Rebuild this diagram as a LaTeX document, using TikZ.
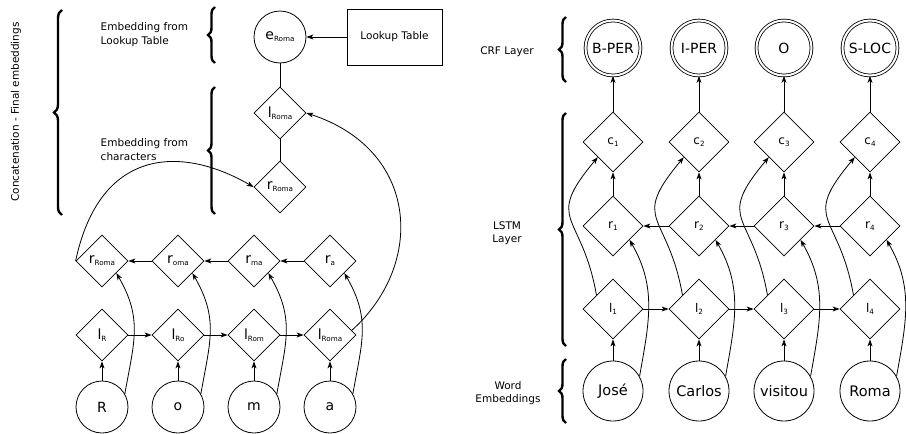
\documentclass[tikz,border=0pt]{standalone}
\usepackage{fontspec}
\setmainfont{DejaVu Sans}
\usetikzlibrary{arrows.meta,shapes.geometric,decorations.pathreplacing}

% letter with a lowered, smaller index
\newcommand{\dlab}[2]{#1\raisebox{-1.8pt}{\fontsize{7.2}{8}\selectfont #2}}

\begin{document}
\begin{tikzpicture}[x=1pt,y=1pt,
  line width=0.8pt,
  arr/.style={-{Stealth[length=7pt,width=5pt,inset=2pt]}},
  ldia/.style={draw, diamond, aspect=1, minimum width=52pt, minimum height=52pt, inner sep=0pt, font=\fontsize{14}{14}\selectfont},
  rdia/.style={draw, diamond, aspect=1, minimum width=60pt, minimum height=60pt, inner sep=0pt, font=\fontsize{12}{12}\selectfont},
  lcirc/.style={draw, circle, minimum size=52pt, inner sep=0pt, font=\fontsize{14}{14}\selectfont},
  wcirc/.style={draw, circle, minimum size=60pt, inner sep=0pt, font=\fontsize{14.5}{14.5}\selectfont},
  crf/.style={draw, circle, double, double distance=2pt, minimum size=55pt, inner sep=0pt, font=\fontsize{14}{14}\selectfont},
  lbl/.style={font=\fontsize{10.5}{14}\selectfont, align=left},
  clbl/.style={font=\fontsize{10.5}{13.5}\selectfont, align=center},
  brc/.style={decorate, decoration={brace, amplitude=7pt}, line width=2.4pt},
]
\useasboundingbox (0,0) rectangle (906,-434);

% ---------- character model ----------
\node[lcirc] (eR) at (280,-37) {\dlab{e}{Roma}};
\node[draw, minimum width=95pt, minimum height=56pt, inner sep=0pt,
      font=\fontsize{10.5}{12}\selectfont] (lut) at (394.5,-37) {Lookup Table};
\node[ldia] (lT) at (280,-113) {\dlab{l}{Roma}};
\node[ldia] (rT) at (280,-187) {\dlab{r}{Roma}};

\draw[arr] (lut) -- (eR);
\draw (eR) -- (lT);
\draw (lT) -- (rT);

\foreach \n/\x/\c/\l/\r in {1/102/R/R/Roma, 2/178/o/Ro/oma, 3/254/m/Rom/ma, 4/330/a/Roma/a} {
  \node[lcirc] (ch\n) at (\x,-407) {\c};
  \node[ldia] (lc\n) at (\x,-335) {\dlab{l}{\l}};
  \node[ldia] (rc\n) at (\x,-261) {\dlab{r}{\r}};
}
\foreach \n in {1,...,4} {
  \draw[arr] (ch\n) -- (lc\n);
  \draw[arr] (ch\n.30) to[out=80,in=-60,distance=53pt] (rc\n.-40);
}
\foreach \a/\b in {1/2,2/3,3/4} {
  \draw[arr] (lc\a) -- (lc\b);
  \draw[arr] (rc\b) -- (rc\a);
}
\draw[arr] (lc4.12) to[out=42,in=-18,out distance=100pt,in distance=118pt] (lT.east);
\draw[arr] (rc1.west) to[out=78,in=150,out distance=115pt,in distance=85pt] (rT.west);

\draw[brc, decoration={amplitude=8pt}] (62,-215) -- (62,-10);
\draw[brc] (215,-63) -- (215,-7);
\draw[brc] (215,-214) -- (215,-87);

\node[lbl, rotate=90] (concat) at (16,-112) {Concatenation - Final embeddings};
\node[lbl, anchor=west] (tlut) at (97,-35) {Embedding from\\Lookup Table};
\node[lbl, anchor=west] (tchar) at (97,-150) {Embedding from\\characters};

% ---------- word model ----------
\foreach \n/\x/\w/\t in {1/613/José/B-PER, 2/699/Carlos/I-PER, 3/784/visitou/O, 4/870/Roma/S-LOC} {
  \node[wcirc] (w\n) at (\x,-391) {\w};
  \node[rdia] (lw\n) at (\x,-309) {\dlab{l}{\n}};
  \node[rdia] (rw\n) at (\x,-226) {\dlab{r}{\n}};
  \node[rdia] (cw\n) at (\x,-142) {\dlab{c}{\n}};
  \node[crf] (t\n) at (\x,-48) {\t};
  \draw[arr] (w\n) -- (lw\n);
  \draw[arr] (rw\n) -- (cw\n);
  \draw[arr] (cw\n) -- (t\n);
  \draw[arr] (w\n.29) to[out=80,in=-60,distance=55pt] (rw\n.-40);
  \draw[arr] (lw\n.140) to[out=100,in=-130,distance=85pt] (cw\n.-135);
}
\foreach \a/\b in {1/2,2/3,3/4} {
  \draw[arr] (lw\a) -- (lw\b);
  \draw[arr] (rw\b) -- (rw\a);
}

\draw[brc] (566,-82) -- (566,-17);
\draw[brc] (566,-346) -- (566,-113);
\draw[brc] (566,-423) -- (566,-359);

\node[clbl] (tcrf) at (507,-52) {CRF Layer};
\node[clbl] (tlstm) at (507,-233) {LSTM\\Layer};
\node[clbl] (temb) at (508,-393) {Word\\Embeddings};
\end{tikzpicture}
\end{document}
